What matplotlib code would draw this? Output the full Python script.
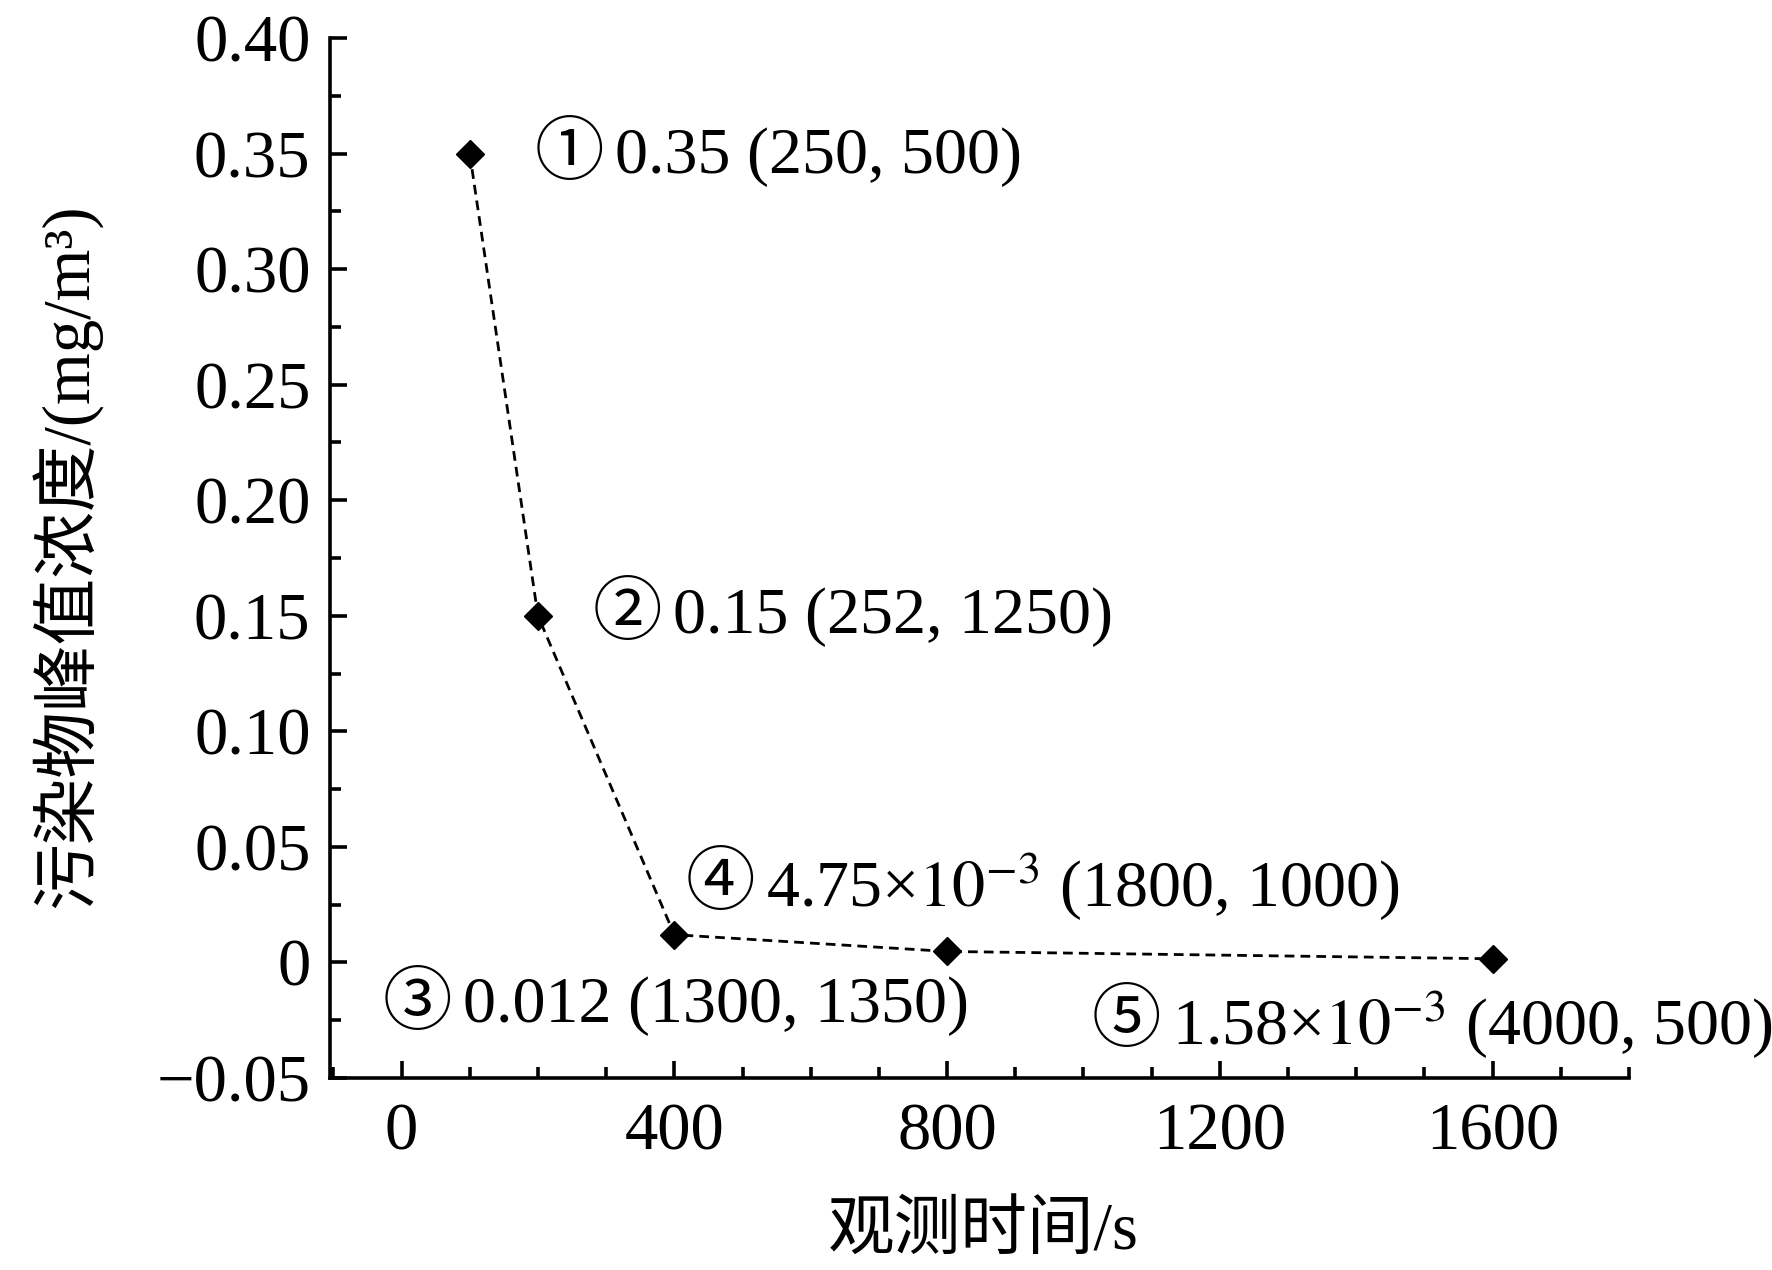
import matplotlib
matplotlib.use('Agg')
import matplotlib.pyplot as plt
from matplotlib.ticker import MultipleLocator

plt.rcParams['font.family'] = ['Liberation Serif', 'Noto Sans CJK SC', 'DejaVu Sans']
plt.rcParams['mathtext.fontset'] = 'stix'

# observation time (s) and peak pollutant concentration (mg/m3)
times = [100, 200, 400, 800, 1600]
peaks = [0.35, 0.15, 0.012, 0.00475, 0.00158]

# annotation texts and where they sit (data coords)
marks = ['①', '②', '③', '④', '⑤']
labels = ['0.35 (250, 500)',
          '0.15 (252, 1250)',
          '0.012 (1300, 1350)',
          '4.75×$10^{-3}$ (1800, 1000)',
          '1.58×$10^{-3}$ (4000, 500)']
label_x = [195, 280, -28, 416, 1012]
label_y = [0.3485, 0.1495, -0.019, 0.033, -0.0265]

xticks = [0, 400, 800, 1200, 1600]
yticks = [-0.05, 0, 0.05, 0.10, 0.15, 0.20, 0.25, 0.30, 0.35, 0.40]
ytick_labels = ['\u22120.05', '0', '0.05', '0.10', '0.15', '0.20',
                '0.25', '0.30', '0.35', '0.40']

fig = plt.figure(figsize=(17.72, 12.70), dpi=100)
ax = fig.add_axes([0.1862, 0.1512, 0.7331, 0.8189])

ax.plot(times, peaks, color='black', linestyle=(0, (3.5, 2.2)), linewidth=2.0,
        marker='D', markersize=14, markerfacecolor='black', markeredgecolor='black')

# circled number first, then the value text shifted right of it
for m, txt, lx, ly in zip(marks, labels, label_x, label_y):
    ax.text(lx, ly, m, fontsize=50, ha='left', va='center')
    ax.annotate(txt, xy=(lx, ly), xytext=(58, 0), textcoords='offset points',
                fontsize=47.5, ha='left', va='center')

ax.set_xlim(-105, 1800)
ax.set_ylim(-0.05, 0.40)
ax.set_xticks(xticks)
ax.set_xticklabels([str(t) for t in xticks])
ax.set_yticks(yticks)
ax.set_yticklabels(ytick_labels)
ax.xaxis.set_minor_locator(MultipleLocator(100))
ax.yaxis.set_minor_locator(MultipleLocator(0.025))

ax.spines['top'].set_visible(False)
ax.spines['right'].set_visible(False)
ax.spines['left'].set_linewidth(2.6)
ax.spines['bottom'].set_linewidth(2.6)

ax.tick_params(which='major', direction='in', length=12, width=2.6, labelsize=48)
ax.tick_params(which='minor', direction='in', length=8, width=2.6)
ax.tick_params(axis='y', which='major', pad=14)
ax.tick_params(axis='x', which='major', pad=18)

ax.set_xlabel('观测时间/s', fontsize=48, va='center')
ax.set_ylabel('污染物峰值浓度/(mg/m³)', fontsize=48, va='center')
ax.xaxis.set_label_coords(0.503, -0.149)
ax.yaxis.set_label_coords(-0.203, 0.502)

fig.savefig('out.png', dpi=100, facecolor='white')
